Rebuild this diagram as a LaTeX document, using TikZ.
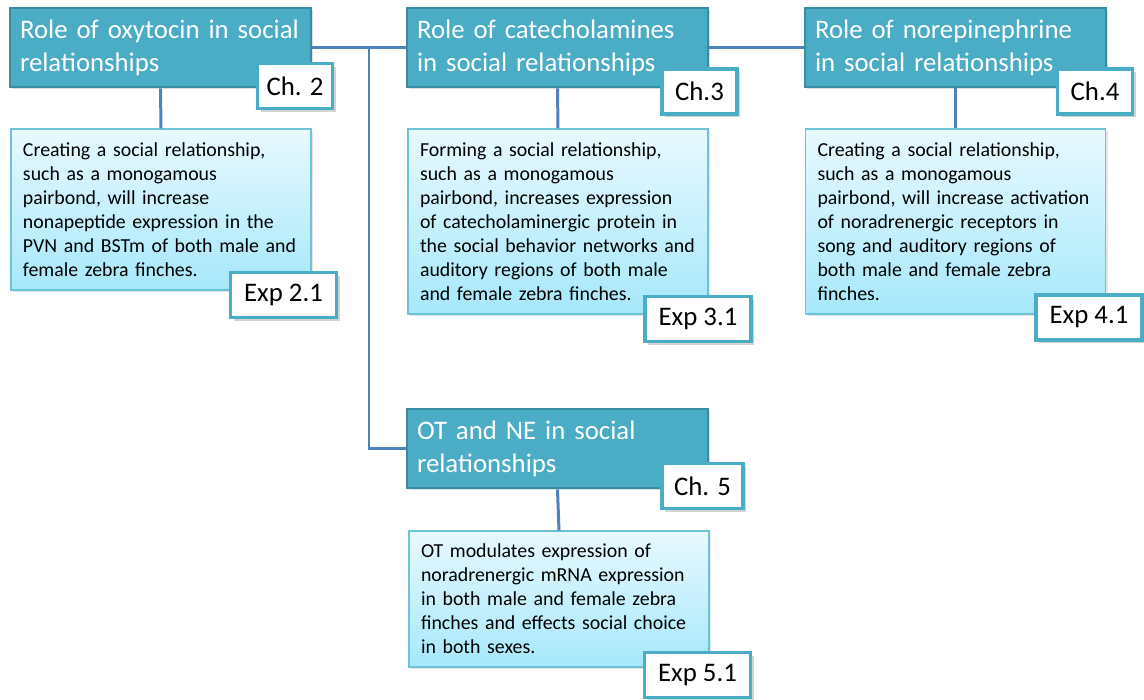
\documentclass[tikz,border=0pt]{standalone}
\usepackage{fontspec}
\setmainfont{Carlito}
\usetikzlibrary{shadows}
\hyphenpenalty=10000

\definecolor{hdfill}{HTML}{4BACC6}
\definecolor{hdline}{HTML}{3A8CA2}
\definecolor{linkblue}{HTML}{4F81BD}
\definecolor{findline}{HTML}{6CC3DA}
\definecolor{boxtop}{HTML}{E8F9FE}
\definecolor{boxbot}{HTML}{A6E8FB}

\tikzset{
  chapter/.style={draw=hdline, line width=1.6pt, fill=hdfill, text=white,
    text width=5.62cm, inner xsep=0.2cm, inner ysep=0pt, minimum height=1.58cm,
    align=left, font=\fontsize{15.25}{18.7}\selectfont,
    drop shadow={shadow xshift=.04cm, shadow yshift=-.04cm, opacity=.25}},
  finding/.style={draw=findline, line width=0.6pt, top color=boxtop, bottom color=boxbot,
    text width=5.52cm, inner xsep=0.24cm, inner ysep=0pt, align=left,
    font=\fontsize{11.3}{13.7}\selectfont,
    drop shadow={shadow xshift=.04cm, shadow yshift=-.04cm, opacity=.2}},
  tag/.style={draw=hdfill, line width=1.8pt, fill=white, inner sep=0pt,
    minimum height=0.9cm, font=\fontsize{15.25}{18}\selectfont,
    drop shadow={shadow xshift=.06cm, shadow yshift=-.06cm, opacity=.35}},
  chtag/.style={tag, minimum width=1.5cm},
  exptag/.style={tag, minimum width=2.12cm},
  link/.style={draw=linkblue, line width=1.7pt}
}

\begin{document}
\begin{tikzpicture}

     \useasboundingbox (0,0) rectangle (22.88,-14);

     %Chapter 2
     \node[chapter] (t1) at (3.21,-0.95) {Role of oxytocin in social\\relationships};
     \node[chtag] (c2) at (5.9,-1.72) {Ch. 2};
     \node[finding, minimum height=3.22cm] (d1) at (3.22,-4.19) {Creating a social relationship,\\such as a monogamous\\pairbond, will increase\\nonapeptide expression in the\\PVN and BSTm of both male and\\female zebra finches.};
     \node[exptag] (e1) at (5.67,-5.9) {Exp 2.1};

     %Chapter 3
     \node[chapter] (t2) at (11.15,-0.95) {Role of catecholamines\\in social relationships};
     \node[chtag] (c3) at (13.99,-1.83) {Ch.3};
     \node[finding, minimum height=3.7cm] (d2) at (11.16,-4.43) {Forming a social relationship,\\such as a monogamous\\pairbond, increases expression\\of catecholaminergic protein in\\the social behavior networks and\\auditory regions of both male\\and female zebra finches.};
     \node[exptag] (e2) at (13.96,-6.38) {Exp 3.1};

     %Chapter 4
     \node[chapter] (t3) at (19.11,-0.95) {Role of norepinephrine\\in social relationships};
     \node[chtag] (c4) at (21.9,-1.83) {Ch.4};
     \node[finding, minimum height=3.7cm] (d3) at (19.11,-4.43) {Creating a social relationship,\\such as a monogamous\\pairbond, will increase activation\\of noradrenergic receptors in\\song and auditory regions of\\both male and female zebra\\finches.};
     \node[exptag] (e3) at (21.78,-6.35) {Exp 4.1};

     %Chapter 5
     \node[chapter] (t4) at (11.15,-8.97) {OT and NE in social\\relationships};
     \node[chtag, minimum width=1.62cm] (c5) at (14.05,-9.72) {Ch. 5};
     \node[finding, minimum height=2.72cm] (d4) at (11.18,-11.98) {OT modulates expression of\\noradrenergic mRNA expression\\in both male and female zebra\\finches and effects social choice\\in both sexes.};
     \node[exptag] (e4) at (13.95,-13.5) {Exp 5.1};

     %links
     \coordinate (jn) at (7.38,-0.95);
     \draw[link] (t1.east)--(t2.west);
     \draw[link] (t2.east)--(t3.west);
     \draw[link] (jn) |- (t4.west);
     \draw[link] (t1.south)--(d1.north);
     \draw[link] (t2.south)--(d2.north);
     \draw[link] (t3.south)--(d3.north);
     \draw[link] (t4.south)--(d4.north);

\end{tikzpicture}
\end{document}
